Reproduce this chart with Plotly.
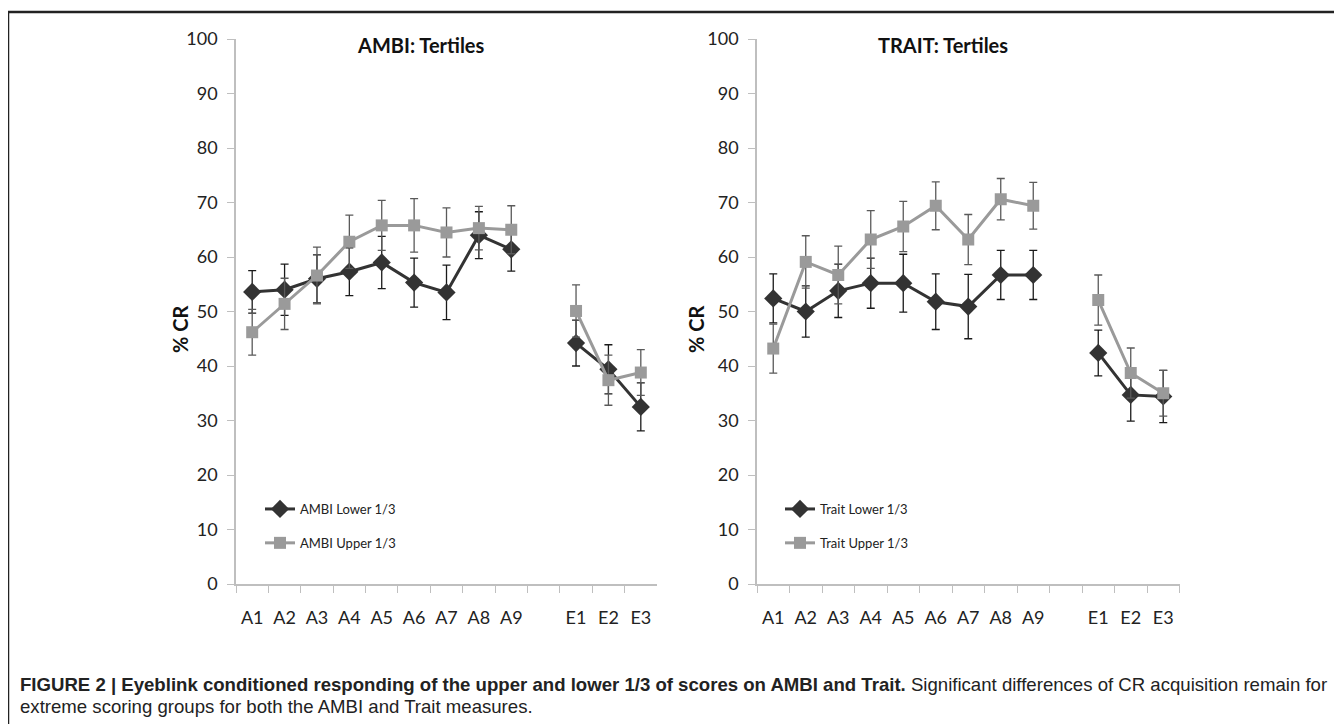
import plotly.graph_objects as go

categories = ["A1", "A2", "A3", "A4", "A5", "A6", "A7", "A8", "A9", " ", "E1", "E2", "E3"]

ambi_lower = [53.6, 54.0, 56.0, 57.3, 59.0, 55.3, 53.5, 64.0, 61.4, None, 44.2, 39.4, 32.5]
ambi_lower_err = [3.9, 4.7, 4.4, 4.4, 4.8, 4.5, 5.0, 4.3, 4.0, None, 4.2, 4.5, 4.4]
ambi_upper = [46.2, 51.4, 56.6, 62.8, 65.8, 65.8, 64.5, 65.3, 65.0, None, 50.1, 37.4, 38.8]
ambi_upper_err = [4.2, 4.7, 5.2, 4.9, 4.6, 4.9, 4.5, 4.0, 4.4, None, 4.8, 4.6, 4.2]

trait_lower = [52.4, 50.0, 53.8, 55.2, 55.2, 51.8, 50.9, 56.7, 56.7, None, 42.4, 34.7, 34.4]
trait_lower_err = [4.5, 4.7, 4.9, 4.6, 5.3, 5.1, 5.9, 4.5, 4.5, None, 4.2, 4.8, 4.8]
trait_upper = [43.2, 59.1, 56.7, 63.2, 65.6, 69.4, 63.2, 70.6, 69.4, None, 52.1, 38.7, 35.0]
trait_upper_err = [4.5, 4.8, 5.3, 5.3, 4.6, 4.4, 4.6, 3.8, 4.3, None, 4.6, 4.6, 4.2]

panel_titles = ["AMBI: Tertiles", "TRAIT: Tertiles"]
y_ticks = [0, 10, 20, 30, 40, 50, 60, 70, 80, 90, 100]

DARK = "#333333"
GRAY = "#9a9a9a"
AXIS = "#bfbfbf"
FONT = "Lato, 'Open Sans', sans-serif"

W, H = 1342, 724
OFF = 8  # page offset of the figure (body margin)

def px(x):
    return (x - OFF) / W

def py(y):
    return 1 - (y - OFF) / H

fig = go.Figure()

def add_pair(xa, ya, lower, lower_err, upper, upper_err, names, legend):
    fig.add_trace(go.Scatter(
        x=categories, y=lower, xaxis=xa, yaxis=ya, name=names[0],
        mode="lines+markers", connectgaps=False,
        line=dict(color=DARK, width=3),
        marker=dict(symbol="diamond", size=14, color=DARK),
        error_y=dict(type="data", array=lower_err, visible=True,
                     color="#1a1a1a", thickness=1.3, width=4),
        legend=legend, legendgroup=names[0],
    ))
    fig.add_trace(go.Scatter(
        x=categories, y=upper, xaxis=xa, yaxis=ya, name=names[1],
        mode="lines+markers", connectgaps=False,
        line=dict(color=GRAY, width=3),
        marker=dict(symbol="square", size=12, color=GRAY),
        error_y=dict(type="data", array=upper_err, visible=True,
                     color="#5a5a5a", thickness=1.3, width=4),
        legend=legend, legendgroup=names[1],
    ))

add_pair("x", "y", ambi_lower, ambi_lower_err, ambi_upper, ambi_upper_err,
         ["AMBI Lower 1/3", "AMBI Upper 1/3"], "legend")
add_pair("x2", "y2", trait_lower, trait_lower_err, trait_upper, trait_upper_err,
         ["Trait Lower 1/3", "Trait Upper 1/3"], "legend2")

xaxis_common = dict(
    type="category", categoryorder="array", categoryarray=categories,
    range=[-0.5, 12.5], tickson="boundaries", ticks="outside", ticklen=7,
    tickcolor=AXIS, tickwidth=1.3, showline=True, linecolor=AXIS, linewidth=1.5,
    showgrid=False, zeroline=False, fixedrange=True, automargin=False,
    ticklabelstandoff=17,
    tickfont=dict(family=FONT, size=18, color="#222"),
)
yaxis_common = dict(
    range=[0, 100], tickvals=y_ticks, ticks="outside", ticklen=7,
    tickcolor=AXIS, tickwidth=1.3, showline=True, linecolor=AXIS, linewidth=1.5,
    showgrid=False, zeroline=False, fixedrange=True, automargin=False,
    ticklabelstandoff=6,
    tickfont=dict(family=FONT, size=18, color="#222"),
)

ydom = [py(584), py(39)]
fig.update_layout(
    width=W, height=H,
    margin=dict(l=0, r=0, t=0, b=0, autoexpand=False),
    paper_bgcolor="white", plot_bgcolor="white",
    showlegend=True,
    xaxis=dict(domain=[px(236), px(657)], anchor="y", **xaxis_common),
    yaxis=dict(domain=ydom, anchor="x", **yaxis_common),
    xaxis2=dict(domain=[px(757), px(1179.5)], anchor="y2", **xaxis_common),
    yaxis2=dict(domain=ydom, anchor="x2", **yaxis_common),
    legend=dict(x=px(260), y=py(494), xanchor="left", yanchor="top",
                bgcolor="rgba(0,0,0,0)", tracegroupgap=14, itemwidth=30,
                font=dict(family=FONT, size=13, color="#222")),
    legend2=dict(x=px(780), y=py(494), xanchor="left", yanchor="top",
                 bgcolor="rgba(0,0,0,0)", tracegroupgap=14, itemwidth=30,
                 font=dict(family=FONT, size=13, color="#222")),
)

CAPFONT = "'Liberation Sans', Arial, sans-serif"
annotations = [
    dict(text="<b>" + panel_titles[0] + "</b>", x=px(421), y=py(45), xanchor="center", yanchor="middle",
         xref="paper", yref="paper", showarrow=False, font=dict(family=FONT, size=20, color="#111")),
    dict(text="<b>" + panel_titles[1] + "</b>", x=px(943), y=py(45), xanchor="center", yanchor="middle",
         xref="paper", yref="paper", showarrow=False, font=dict(family=FONT, size=20, color="#111")),
    dict(text="<b>% CR</b>", x=px(180), y=py(330), xanchor="center", yanchor="middle",
         xref="paper", yref="paper", textangle=-90,
         showarrow=False, font=dict(family=FONT, size=20, color="#111")),
    dict(text="<b>% CR</b>", x=px(696), y=py(330), xanchor="center", yanchor="middle",
         xref="paper", yref="paper", textangle=-90,
         showarrow=False, font=dict(family=FONT, size=20, color="#111")),
    dict(text="<b>FIGURE 2 | Eyeblink conditioned responding of the upper and lower 1/3 of scores on AMBI and Trait.</b>"
              " Significant differences of CR acquisition remain for",
         x=px(18), y=py(684), xref="paper", yref="paper", xanchor="left", yanchor="middle",
         showarrow=False, font=dict(family=CAPFONT, size=18.6, color="#222")),
    dict(text="extreme scoring groups for both the AMBI and Trait measures.",
         x=px(18), y=py(706), xref="paper", yref="paper", xanchor="left", yanchor="middle",
         showarrow=False, font=dict(family=CAPFONT, size=18.6, color="#222")),
]
fig.update_layout(annotations=annotations)

fig.update_layout(shapes=[
    dict(type="line", xref="paper", yref="paper", x0=px(8), x1=1, y0=py(12), y1=py(12),
         line=dict(color="#222", width=2.5)),
    dict(type="line", xref="paper", yref="paper", x0=px(8), x1=px(8), y0=py(12), y1=0,
         line=dict(color="#222", width=2.5)),
])

fig.write_html("out.html")
